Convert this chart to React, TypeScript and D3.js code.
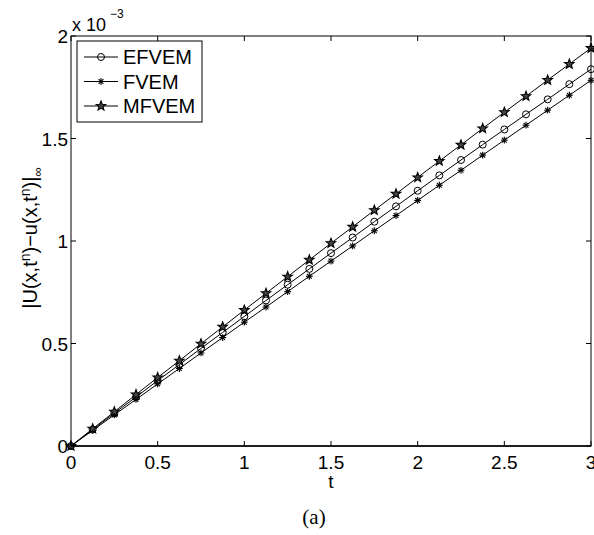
import React from "react";
import * as d3 from "d3";

const tValues = [0, 0.125, 0.25, 0.375, 0.5, 0.625, 0.75, 0.875, 1, 1.125, 1.25, 1.375, 1.5, 1.625, 1.75, 1.875, 2, 2.125, 2.25, 2.375, 2.5, 2.625, 2.75, 2.875, 3];
const efvem = [0, 0.080, 0.160, 0.239, 0.319, 0.397, 0.476, 0.554, 0.632, 0.710, 0.787, 0.864, 0.941, 1.017, 1.094, 1.169, 1.245, 1.320, 1.395, 1.470, 1.544, 1.618, 1.691, 1.765, 1.838];
const fvem = [0, 0.076, 0.152, 0.227, 0.303, 0.378, 0.454, 0.529, 0.604, 0.678, 0.753, 0.828, 0.902, 0.976, 1.050, 1.124, 1.198, 1.272, 1.345, 1.419, 1.492, 1.565, 1.638, 1.711, 1.784];
const mfvem = [0, 0.084, 0.167, 0.251, 0.334, 0.416, 0.499, 0.581, 0.663, 0.745, 0.826, 0.908, 0.989, 1.069, 1.150, 1.230, 1.310, 1.390, 1.469, 1.549, 1.628, 1.706, 1.785, 1.863, 1.941];
const seriesNames = ["EFVEM", "FVEM", "MFVEM"];
const xTicks = [0, 0.5, 1, 1.5, 2, 2.5, 3];
const xTickLabels = ["0", "0.5", "1", "1.5", "2", "2.5", "3"];
const yTicks = [0, 0.5, 1, 1.5, 2];
const yTickLabels = ["0", "0.5", "1", "1.5", "2"];

const L = 71, R = 591, T = 36, B = 446;
const font = "Liberation Sans, Arial, sans-serif";

function Marker({ kind, x, y }: { kind: string; x: number; y: number }) {
  if (kind === "EFVEM") return <circle cx={x} cy={y} r={3.5} fill="none" stroke="#000" strokeWidth={1} />;
  if (kind === "FVEM") {
    const r = 3.4;
    const lines = [0, 45, 90, 135].map((a) => {
      const rad = (a * Math.PI) / 180;
      return <line key={a} x1={x - r * Math.cos(rad)} y1={y - r * Math.sin(rad)} x2={x + r * Math.cos(rad)} y2={y + r * Math.sin(rad)} stroke="#000" strokeWidth={1.1} />;
    });
    return <g>{lines}</g>;
  }
  const ro = 5, ri = 2.1;
  const pts: string[] = [];
  for (let i = 0; i < 10; i++) {
    const a = -Math.PI / 2 + (i * Math.PI) / 5;
    const r = i % 2 === 0 ? ro : ri;
    pts.push(`${x + r * Math.cos(a)},${y + r * Math.sin(a)}`);
  }
  return <polygon points={pts.join(" ")} fill="#444" stroke="#000" strokeWidth={1.1} />;
}

export default function App() {
  const x = d3.scaleLinear().domain([0, 3]).range([L, R]);
  const y = d3.scaleLinear().domain([0, 2]).range([B, T]);
  const data = [efvem, fvem, mfvem];
  const line = d3.line<number>().x((_, i) => x(tValues[i])).y((d) => y(d));
  const tk = 5;
  return (
    <svg width={594} height={535} style={{ position: "absolute", left: 0, top: 0, background: "#fff" }}>
      <rect x={0} y={0} width={594} height={535} fill="#fff" />
      {data.map((d, si) => (
        <g key={si}>
          <path d={line(d) || ""} fill="none" stroke="#000" strokeWidth={1} />
          {d.map((v, i) => (
            <Marker key={i} kind={seriesNames[si]} x={x(tValues[i])} y={y(v)} />
          ))}
        </g>
      ))}
      <rect x={L} y={T} width={R - L} height={B - T} fill="none" stroke="#000" strokeWidth={1} />
      <line x1={L} x2={R} y1={B} y2={B} stroke="#000" strokeWidth={1.6} />
      {xTicks.map((t, i) => (
        <g key={i}>
          <line x1={x(t)} x2={x(t)} y1={B} y2={B - tk} stroke="#000" />
          <line x1={x(t)} x2={x(t)} y1={T} y2={T + tk} stroke="#000" />
          <text x={x(t)} y={469} textAnchor="middle" fontFamily={font} fontSize={19}>{xTickLabels[i]}</text>
        </g>
      ))}
      {yTicks.map((t, i) => (
        <g key={i}>
          <line x1={L} x2={L + tk} y1={y(t)} y2={y(t)} stroke="#000" />
          <line x1={R} x2={R - tk} y1={y(t)} y2={y(t)} stroke="#000" />
          <text x={68} y={y(t) + 7} textAnchor="end" fontFamily={font} fontSize={19}>{yTickLabels[i]}</text>
        </g>
      ))}
      <text x={72} y={31} fontFamily={font} fontSize={18}>x 10</text>
      <text x={110} y={18} fontFamily={font} fontSize={12}>−3</text>
      <text x={331} y={488} textAnchor="middle" fontFamily={font} fontSize={19}>t</text>
      <text transform={`translate(37,238) rotate(-90)`} textAnchor="middle" fontFamily={font} fontSize={20}>
        |U(x,t<tspan dy={-7} fontSize={14}>n</tspan><tspan dy={7}>)−u(x,t</tspan><tspan dy={-7} fontSize={14}>n</tspan><tspan dy={7}>)|</tspan><tspan dy={5} fontSize={13}>∞</tspan>
      </text>
      <text x={314} y={524} textAnchor="middle" fontFamily="Liberation Serif, Times New Roman, serif" fontSize={21}>(a)</text>
      <g>
        <rect x={77} y={41} width={125} height={81} fill="#fff" stroke="#000" strokeWidth={1} />
        {seriesNames.map((n, i) => {
          const cy = 57 + i * 24.5;
          return (
            <g key={n}>
              <line x1={84} x2={118} y1={cy} y2={cy} stroke="#000" strokeWidth={1} />
              <Marker kind={n} x={101} y={cy} />
              <text x={123} y={cy + 7} fontFamily={font} fontSize={20}>{n}</text>
            </g>
          );
        })}
      </g>
    </svg>
  );
}
